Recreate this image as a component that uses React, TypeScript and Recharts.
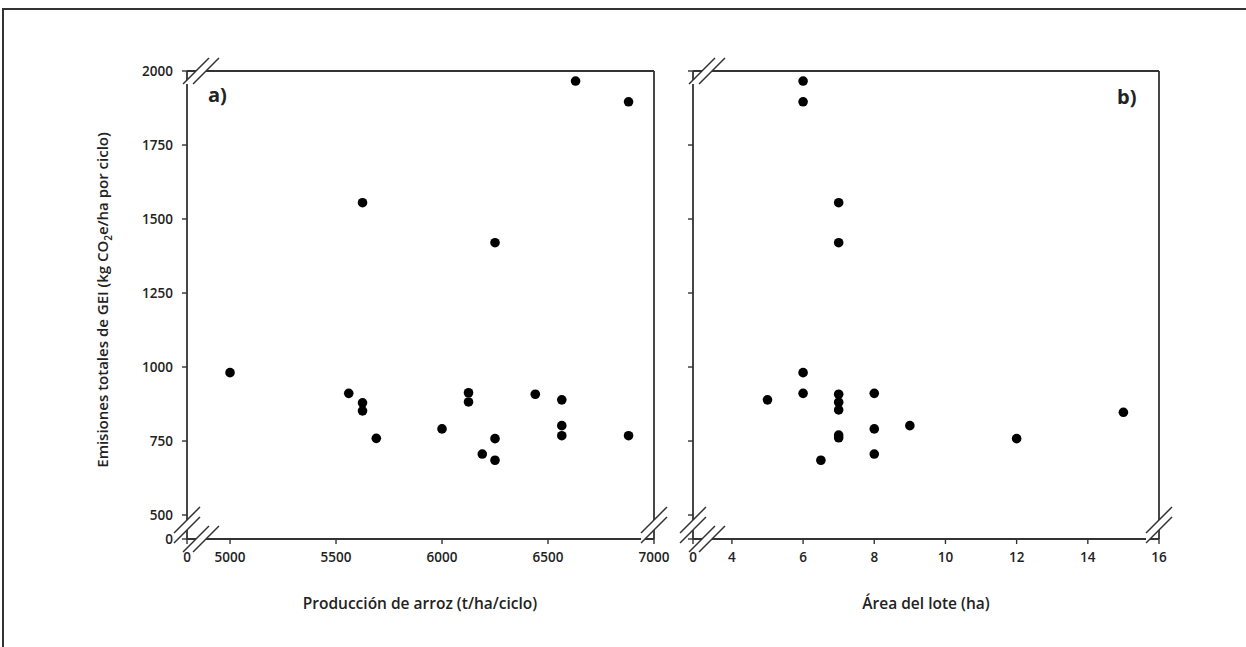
import React from "react";
import { ScatterChart, Scatter, XAxis, YAxis, ReferenceLine, ReferenceDot } from "recharts";

// ---- Data ----
const prodA = [6630, 6880, 5625, 6250, 5000, 5560, 5625, 5625, 5690, 6000, 6125, 6125, 6190, 6250, 6250, 6440, 6565, 6565, 6565, 6880];
const emisA = [1966, 1896, 1555, 1420, 981, 911, 879, 852, 759, 791, 913, 882, 706, 758, 685, 908, 889, 802, 768, 768];

const areaB = [6, 6, 7, 7, 5, 6, 6, 7, 7, 7, 7, 7, 6.5, 8, 8, 8, 9, 12, 15];
const emisB = [1966, 1896, 1555, 1420, 889, 981, 911, 908, 881, 855, 770, 761, 685, 911, 791, 706, 802, 758, 847];

const yTicks = [419, 500, 750, 1000, 1250, 1500, 1750, 2000];
const xTicksA = [4797, 5000, 5500, 6000, 6500, 7000];
const xTicksB = [2.907, 4, 6, 8, 10, 12, 14, 16];

const Y_MIN = 419;
const Y_MAX = 2000;
const XA_MIN = 4797;
const XA_MAX = 7000;
const XB_MIN = 2.907;
const XB_MAX = 16;

const dataA = prodA.map((x, i) => ({ x, y: emisA[i] }));
const dataB = areaB.map((x, i) => ({ x, y: emisB[i] }));

const LINE = "#333";
const FONT = "'Open Sans', 'DejaVu Sans', sans-serif";
const tickStyle = { fontFamily: FONT, fontWeight: 600, fontSize: 13.5, fill: "#222" };

function slashPair(px: number, py: number, vertical: boolean) {
  const h = 18;
  const dx = h * 0.72, dy = h * 0.72;
  const off = 5;
  const c1 = vertical ? [px, py - off] : [px - off, py];
  const c2 = vertical ? [px, py + off] : [px + off, py];
  const s1 = [c1[0] - dx, c1[1] + dy, c1[0] + dx, c1[1] - dy];
  const s2 = [c2[0] - dx, c2[1] + dy, c2[0] + dx, c2[1] - dy];
  return { s1, s2 };
}

function BreakFill({ s1, s2 }: { s1: number[]; s2: number[] }) {
  return (
    <polygon
      points={`${s1[0]},${s1[1]} ${s1[2]},${s1[3]} ${s2[2]},${s2[3]} ${s2[0]},${s2[1]}`}
      fill="#fff"
      stroke="none"
    />
  );
}
function BreakLines({ s1, s2 }: { s1: number[]; s2: number[] }) {
  return (
    <g>
      <line x1={s1[0]} y1={s1[1]} x2={s1[2]} y2={s1[3]} stroke={LINE} strokeWidth={1.5} />
      <line x1={s2[0]} y1={s2[1]} x2={s2[2]} y2={s2[3]} stroke={LINE} strokeWidth={1.5} />
    </g>
  );
}

const BottomLeftBreak = (props: any) => {
  const { cx, cy } = props;
  const a = slashPair(cx, cy - 14, true);
  const b = slashPair(cx + 14, cy, false);
  return (
    <g>
      <BreakFill {...a} />
      <BreakFill {...b} />
      <BreakLines {...a} />
      <BreakLines {...b} />
    </g>
  );
};
const TopLeftBreak = (props: any) => {
  const { cx, cy } = props;
  const a = slashPair(cx + 14, cy, false);
  return (
    <g>
      <BreakFill {...a} />
      <BreakLines {...a} />
    </g>
  );
};
const BottomRightBreak = (props: any) => {
  const { cx, cy } = props;
  const a = slashPair(cx, cy - 14, true);
  return (
    <g>
      <BreakFill {...a} />
      <BreakLines {...a} />
    </g>
  );
};

const Dot = (props: any) => <circle cx={props.cx} cy={props.cy} r={4.8} fill="#000" />;

function renderChart(
  key: string,
  data: { x: number; y: number }[],
  xMin: number,
  xMax: number,
  xTicks: number[],
  showYLabels: boolean,
  width: number,
  margin: { top: number; right: number; bottom: number; left: number }
) {
  return (
    <ScatterChart key={key} width={width} height={647} margin={margin}>
      <XAxis
        type="number"
        dataKey="x"
        domain={[xMin, xMax]}
        ticks={xTicks}
        allowDataOverflow
        interval={0}
        height={30}
        tickSize={5}
        tickMargin={8}
        tick={tickStyle}
        axisLine={{ stroke: LINE, strokeWidth: 1.8 }}
        tickLine={{ stroke: LINE, strokeWidth: 1.4 }}
        tickFormatter={(v: number) => (v === xMin ? "0" : String(v))}
      />
      <YAxis
        type="number"
        dataKey="y"
        domain={[Y_MIN, Y_MAX]}
        ticks={yTicks}
        allowDataOverflow
        interval={0}
        width={60}
        tickSize={5}
        tickMargin={9}
        tick={tickStyle}
        axisLine={{ stroke: LINE, strokeWidth: 1.8 }}
        tickLine={{ stroke: LINE, strokeWidth: 1.4 }}
        tickFormatter={(v: number) => (showYLabels ? (v === Y_MIN ? "0" : String(v)) : "")}
      />
      <ReferenceLine y={Y_MAX} stroke={LINE} strokeWidth={1.8} ifOverflow="visible" />
      <ReferenceLine x={xMax} stroke={LINE} strokeWidth={1.8} ifOverflow="visible" />
      <Scatter data={data} fill="#000" shape={Dot} isAnimationActive={false} />
      <ReferenceDot x={xMin} y={Y_MIN} ifOverflow="visible" shape={BottomLeftBreak} />
      <ReferenceDot x={xMin} y={Y_MAX} ifOverflow="visible" shape={TopLeftBreak} />
      <ReferenceDot x={xMax} y={Y_MIN} ifOverflow="visible" shape={BottomRightBreak} />
    </ScatterChart>
  );
}

const titleStyle: React.CSSProperties = {
  position: "absolute",
  fontFamily: FONT,
  fontWeight: 600,
  fontSize: 15.5,
  color: "#222",
  whiteSpace: "nowrap",
};

export default function App() {
  return (
    <div
      style={{
        position: "absolute",
        left: 0,
        top: 0,
        width: 1246,
        height: 647,
        overflow: "hidden",
        background: "#fff",
      }}
    >
      <div
        style={{
          position: "absolute",
          left: 2,
          top: 8,
          width: 1400,
          height: 800,
          borderLeft: "2px solid #333",
          borderTop: "2px solid #333",
        }}
      />
      <div style={{ position: "absolute", left: 0, top: 0 }}>
        {renderChart("a", dataA, XA_MIN, XA_MAX, xTicksA, true, 700, { top: 71, right: 46, bottom: 78, left: 127 })}
      </div>
      <div style={{ position: "absolute", left: 560, top: 0 }}>
        {renderChart("b", dataB, XB_MIN, XB_MAX, xTicksB, false, 660, { top: 71, right: 61, bottom: 78, left: 73 })}
      </div>
      <div style={{ ...titleStyle, left: 208, top: 81, fontSize: 20, fontWeight: 700 }}>a)</div>
      <div style={{ ...titleStyle, left: 1117, top: 83, fontSize: 20, fontWeight: 700 }}>b)</div>
      <div
        style={{
          ...titleStyle,
          fontSize: 15,
          left: 103,
          top: 300,
          transform: "translate(-50%, -50%) rotate(-90deg)",
        }}
      >
        Emisiones totales de GEI (kg CO<sub style={{ fontSize: 10 }}>2</sub>e/ha por ciclo)
      </div>
      <div style={{ ...titleStyle, left: 420, top: 603, transform: "translate(-50%, -50%)" }}>
        Producción de arroz (t/ha/ciclo)
      </div>
      <div style={{ ...titleStyle, left: 926, top: 603, transform: "translate(-50%, -50%)" }}>
        Área del lote (ha)
      </div>
    </div>
  );
}
